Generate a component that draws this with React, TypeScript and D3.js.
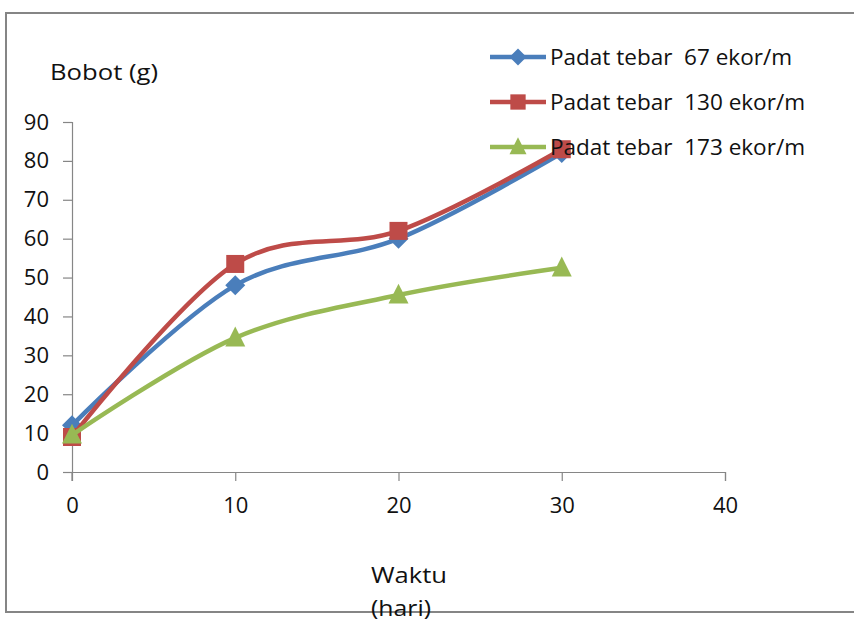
import React, { useRef, useEffect } from 'react';
import * as d3 from 'd3';

const days = [0, 10, 20, 30];
const seriesNames = [
  'Padat tebar  67 ekor/m',
  'Padat tebar  130 ekor/m',
  'Padat tebar  173 ekor/m',
];
const weight67 = [12, 48, 60, 82];
const weight130 = [9, 53.5, 62, 83];
const weight173 = [9.5, 34.5, 45.5, 52.5];
const yTicks = [0, 10, 20, 30, 40, 50, 60, 70, 80, 90];
const xTicks = [0, 10, 20, 30, 40];
const colors = ['#4a7ebb', '#be4b48', '#98b954'];
const markers = ['diamond', 'square', 'triangle'];

const W = 854;
const H = 621;
const FONT = '"Open Sans", "DejaVu Sans", sans-serif';

const App: React.FC = () => {
  const ref = useRef<SVGSVGElement>(null);

  useEffect(() => {
    const svg = d3.select(ref.current);
    svg.selectAll('*').remove();

    const x = d3.scaleLinear().domain([0, 40]).range([72, 725]);
    const y = d3.scaleLinear().domain([0, 90]).range([472, 122]);

    // outer frame (right edge is cut off in the original)
    svg
      .append('path')
      .attr('d', `M${W + 5},13 H6 V612 H${W + 5}`)
      .attr('fill', 'none')
      .attr('stroke', '#858585')
      .attr('stroke-width', 2);

    // y axis
    const yAxis = d3.axisLeft(y).tickValues(yTicks).tickSize(9).tickPadding(14);
    const gy = svg.append('g').attr('transform', 'translate(72,0)').call(yAxis);
    // x axis
    const xAxis = d3.axisBottom(x).tickValues(xTicks).tickSize(9).tickPadding(16);
    const gx = svg.append('g').attr('transform', 'translate(0,472)').call(xAxis);

    [gy, gx].forEach((g) => {
      g.select('.domain').attr('stroke', '#868686').attr('stroke-width', 1.2);
      g.selectAll('.tick line').attr('stroke', '#868686').attr('stroke-width', 1.2);
      g.selectAll('.tick text')
        .attr('fill', '#111')
        .style('font-family', FONT)
        .style('font-size', '22px');
    });
    gy.select('.domain').attr('d', 'M-9,122.5H0.5V472.5H-9');
    gx.select('.domain').attr('d', 'M72,9V0.5H725.5V9');

    const allSeries = [weight67, weight130, weight173];
    const line = d3
      .line<number>()
      .x((_d, i) => x(days[i]))
      .y((d) => y(d))
      .curve(d3.curveCardinal.tension(0));

    const drawMarker = (g: any, kind: string, cx: number, cy: number, color: string, s: number) => {
      if (kind === 'diamond') {
        g.append('path')
          .attr('d', `M${cx},${cy - s / 2}L${cx + s / 2},${cy}L${cx},${cy + s / 2}L${cx - s / 2},${cy}Z`)
          .attr('fill', color);
      } else if (kind === 'square') {
        const a = s * 0.9;
        g.append('rect')
          .attr('x', cx - a / 2)
          .attr('y', cy - a / 2)
          .attr('width', a)
          .attr('height', a)
          .attr('fill', color);
      } else {
        const h = s * 0.95;
        g.append('path')
          .attr('d', `M${cx},${cy - h * 0.6}L${cx + s / 2},${cy + h * 0.45}L${cx - s / 2},${cy + h * 0.45}Z`)
          .attr('fill', color);
      }
    };

    allSeries.forEach((vals, si) => {
      const g = svg.append('g');
      g.append('path')
        .attr('d', line(vals))
        .attr('fill', 'none')
        .attr('stroke', colors[si])
        .attr('stroke-width', 4.5)
        .attr('stroke-linejoin', 'round');
      vals.forEach((v, i) => drawMarker(g, markers[si], x(days[i]), y(v), colors[si], 20));
    });

    // legend
    const legendRows = [57, 102, 147];
    seriesNames.forEach((name, i) => {
      const g = svg.append('g');
      const ly = legendRows[i];
      g.append('line')
        .attr('x1', 490)
        .attr('x2', 546)
        .attr('y1', ly)
        .attr('y2', ly)
        .attr('stroke', colors[i])
        .attr('stroke-width', 4.5);
      drawMarker(g, markers[i], 518, ly, colors[i], 17);
      g.append('text')
        .attr('x', 550)
        .attr('y', ly + 8)
        .attr('textLength', i === 0 ? 242 : 255)
        .attr('lengthAdjust', 'spacingAndGlyphs')
        .style('font-family', FONT)
        .style('font-size', '22px')
        .style('white-space', 'pre')
        .attr('fill', '#111')
        .text(name);
    });

    // axis titles
    svg
      .append('text')
      .attr('x', 50)
      .attr('y', 80)
      .attr('textLength', 108)
      .attr('lengthAdjust', 'spacingAndGlyphs')
      .style('font-family', FONT)
      .style('font-size', '22px')
      .attr('fill', '#111')
      .text('Bobot (g)');
    svg
      .append('text')
      .attr('x', 371)
      .attr('y', 583)
      .attr('textLength', 76)
      .attr('lengthAdjust', 'spacingAndGlyphs')
      .style('font-family', FONT)
      .style('font-size', '22px')
      .attr('fill', '#111')
      .text('Waktu');
    svg
      .append('text')
      .attr('x', 371)
      .attr('y', 616)
      .attr('textLength', 60)
      .attr('lengthAdjust', 'spacingAndGlyphs')
      .style('font-family', FONT)
      .style('font-size', '22px')
      .attr('fill', '#111')
      .text('(hari)');
  }, []);

  return (
    <svg
      ref={ref}
      width={W}
      height={H}
      style={{ position: 'absolute', left: 0, top: 0, background: '#fff' }}
    />
  );
};

export default App;
